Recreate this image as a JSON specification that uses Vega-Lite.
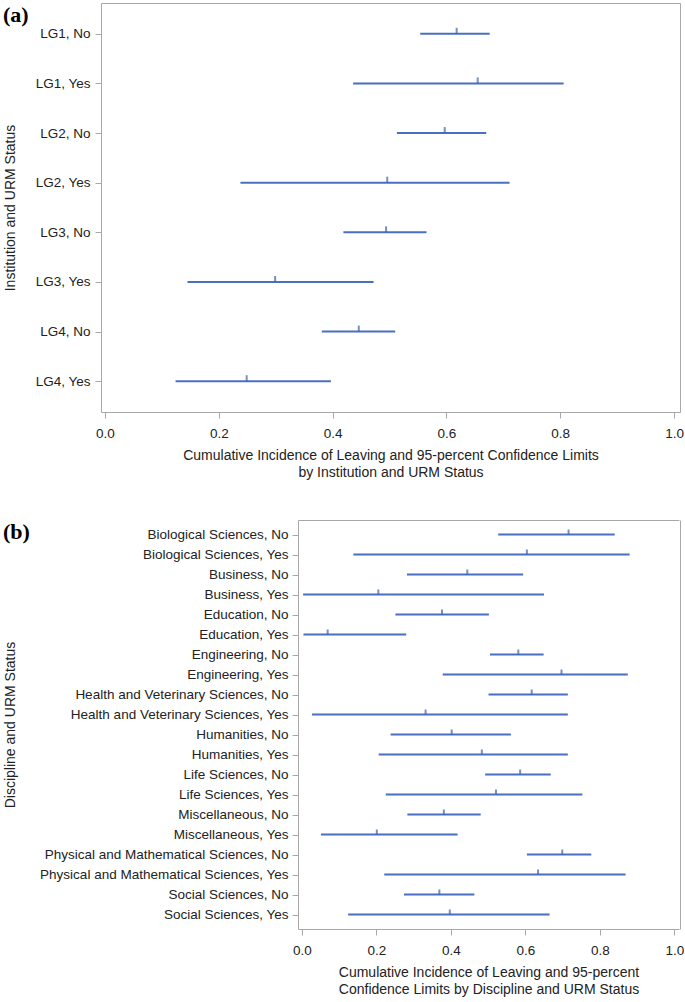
{
  "$schema": "https://vega.github.io/schema/vega-lite/v6.json",
  "padding": {"left": 2, "top": 2, "right": 5, "bottom": 5},
  "background": "white",
  "spacing": 40,
  "config": {
    "font": "Liberation Sans",
    "view": {"stroke": "#a8a8a8", "strokeWidth": 1},
    "axis": {
      "domain": false,
      "domainColor": "#a8a8a8",
      "domainWidth": 1,
      "tickColor": "#a8a8a8",
      "tickSize": 6,
      "grid": false,
      "labelFont": "Liberation Sans",
      "labelFontSize": 13.5,
      "labelColor": "#222222",
      "labelLimit": 400,
      "titleFont": "Liberation Sans",
      "titleFontSize": 14,
      "titleFontWeight": "normal",
      "titleColor": "#222222"
    }
  },
  "vconcat": [
    {
      "title": {"text": "(a)", "anchor": "start", "frame": "bounds", "font": "Liberation Serif", "fontSize": 22, "fontWeight": "bold", "color": "#000000", "offset": -24},
      "width": 579,
      "height": 409,
      "data": {"values": [
        {"group": "LG1, No", "lo": 0.554, "est": 0.618, "hi": 0.676},
        {"group": "LG1, Yes", "lo": 0.436, "est": 0.655, "hi": 0.806},
        {"group": "LG2, No", "lo": 0.513, "est": 0.597, "hi": 0.670},
        {"group": "LG2, Yes", "lo": 0.238, "est": 0.496, "hi": 0.711},
        {"group": "LG3, No", "lo": 0.419, "est": 0.494, "hi": 0.565},
        {"group": "LG3, Yes", "lo": 0.145, "est": 0.299, "hi": 0.472},
        {"group": "LG4, No", "lo": 0.381, "est": 0.446, "hi": 0.510},
        {"group": "LG4, Yes", "lo": 0.124, "est": 0.249, "hi": 0.397}
      ]},
      "encoding": {
        "y": {
          "field": "group", "type": "nominal", "sort": null,
          "scale": {"type": "point", "padding": 0.62},
          "axis": {"title": "Institution and URM Status", "labelPadding": 5, "minExtent": 84, "maxExtent": 84, "titlePadding": 0}
        }
      },
      "layer": [
        {
          "mark": {"type": "rule", "color": "#4a6fc0", "strokeWidth": 2},
          "encoding": {
            "x": {"field": "lo", "type": "quantitative",
              "scale": {"domain": [-0.007, 1.0105], "nice": false, "zero": false},
              "axis": {"values": [0, 0.2, 0.4, 0.6, 0.8, 1.0], "format": ".1f", "labelPadding": 8,
                "title": ["Cumulative Incidence of Leaving and 95-percent Confidence Limits", "by Institution and URM Status"],
                "titleLineHeight": 17, "titlePadding": 9}},
            "x2": {"field": "hi"}
          }
        },
        {
          "mark": {"type": "tick", "color": "#3a5fb0", "thickness": 2, "size": 6, "yOffset": -3},
          "encoding": {"x": {"field": "est", "type": "quantitative"}}
        }
      ]
    },
    {
      "title": {"text": "(b)", "anchor": "start", "frame": "bounds", "font": "Liberation Serif", "fontSize": 22, "fontWeight": "bold", "color": "#000000", "offset": -24},
      "width": 579,
      "height": 409,
      "view": {"stroke": null},
      "data": {"values": [
        {"group": "Biological Sciences, No", "lo": 0.527, "est": 0.716, "hi": 0.840},
        {"group": "Biological Sciences, Yes", "lo": 0.138, "est": 0.604, "hi": 0.880},
        {"group": "Business, No", "lo": 0.282, "est": 0.444, "hi": 0.594},
        {"group": "Business, Yes", "lo": 0.003, "est": 0.205, "hi": 0.650},
        {"group": "Education, No", "lo": 0.251, "est": 0.376, "hi": 0.502},
        {"group": "Education, Yes", "lo": 0.004, "est": 0.069, "hi": 0.280},
        {"group": "Engineering, No", "lo": 0.505, "est": 0.581, "hi": 0.649},
        {"group": "Engineering, Yes", "lo": 0.378, "est": 0.697, "hi": 0.875},
        {"group": "Health and Veterinary Sciences, No", "lo": 0.501, "est": 0.617, "hi": 0.714},
        {"group": "Health and Veterinary Sciences, Yes", "lo": 0.027, "est": 0.332, "hi": 0.714},
        {"group": "Humanities, No", "lo": 0.238, "est": 0.402, "hi": 0.561},
        {"group": "Humanities, Yes", "lo": 0.206, "est": 0.483, "hi": 0.714},
        {"group": "Life Sciences, No", "lo": 0.492, "est": 0.586, "hi": 0.668},
        {"group": "Life Sciences, Yes", "lo": 0.225, "est": 0.521, "hi": 0.753},
        {"group": "Miscellaneous, No", "lo": 0.283, "est": 0.381, "hi": 0.480},
        {"group": "Miscellaneous, Yes", "lo": 0.051, "est": 0.201, "hi": 0.418},
        {"group": "Physical and Mathematical Sciences, No", "lo": 0.604, "est": 0.699, "hi": 0.777},
        {"group": "Physical and Mathematical Sciences, Yes", "lo": 0.221, "est": 0.634, "hi": 0.869},
        {"group": "Social Sciences, No", "lo": 0.274, "est": 0.369, "hi": 0.463},
        {"group": "Social Sciences, Yes", "lo": 0.124, "est": 0.397, "hi": 0.665}
      ]},
      "resolve": {"axis": {"x": "independent", "y": "independent"}},
      "layer": [
        {
          "mark": {"type": "rule", "color": "#4a6fc0", "strokeWidth": 2},
          "encoding": {
            "y": {
              "field": "group", "type": "nominal", "sort": null,
              "scale": {"type": "point", "padding": 0.725},
              "axis": {"title": "Discipline and URM Status", "labelPadding": 4, "minExtent": 281, "maxExtent": 281, "titlePadding": 0, "offset": -197, "domain": true}
            },
            "x": {"field": "lo", "type": "quantitative",
              "scale": {"domain": [-0.0107, 1.0126], "nice": false, "zero": false, "range": [197, 578]},
              "axis": {"values": [0, 0.2, 0.4, 0.6, 0.8, 1.0], "format": ".1f", "labelPadding": 8, "domain": true,
                "title": ["Cumulative Incidence of Leaving and 95-percent", "Confidence Limits by Discipline and URM Status"],
                "titleLineHeight": 17, "titlePadding": 9}},
            "x2": {"field": "hi"}
          }
        },
        {
          "mark": {"type": "tick", "color": "#3a5fb0", "thickness": 2, "size": 5, "yOffset": -2.5},
          "encoding": {
            "y": {"field": "group", "type": "nominal", "sort": null,
              "axis": {"orient": "right", "labels": false, "ticks": false, "title": null, "domain": true}},
            "x": {"field": "est", "type": "quantitative",
              "axis": {"orient": "top", "labels": false, "ticks": false, "title": null, "domain": true}}
          }
        }
      ]
    }
  ]
}
